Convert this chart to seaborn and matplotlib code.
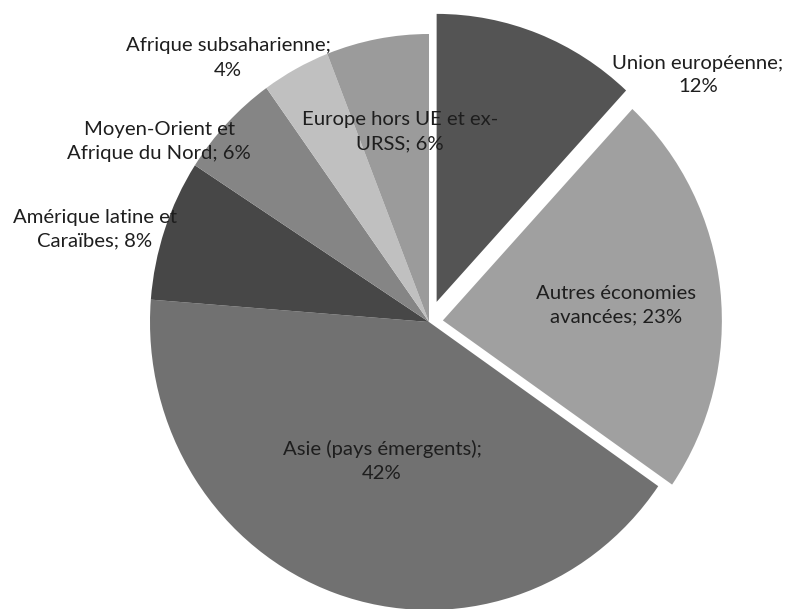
import matplotlib
matplotlib.use("Agg")
import matplotlib.pyplot as plt
import seaborn as sns

# Répartition par région (en %)
regions = [
    "Union européenne",
    "Autres économies\navancées",
    "Asie (pays émergents)",
    "Amérique latine et\nCaraïbes",
    "Moyen-Orient et\nAfrique du Nord",
    "Afrique subsaharienne",
    "Europe hors UE et ex-\nURSS",
]
parts = [12, 23, 42, 8, 6, 4, 6]
greys = ["#545454", "#a0a0a0", "#717171", "#474747", "#858585", "#c0c0c0", "#9b9b9b"]
explode = [0.075, 0.05, 0, 0, 0, 0, 0]

# Label anchors in pixels (x from left, y from top)
label_xy = [(698, 75), (616, 305), (382, 461), (95, 229),
            (159, 141), (228, 58), (400, 132)]

sns.set_theme(style="white")
plt.rcParams["font.family"] = ["Lato", "DejaVu Sans"]

W, H = 788, 609
fig = plt.figure(figsize=(W / 100, H / 100), dpi=100)
ax = fig.add_axes([0, 0, 1, 1])

cx, cy = 429, 322      # pie centre in pixels
rx, ry = 279, 288      # horizontal / vertical radius in pixels

ax.pie(parts, colors=greys, explode=explode, startangle=90,
       counterclock=False, radius=1, wedgeprops=dict(linewidth=0))
ax.set_aspect("auto")
ax.set_xlim(-cx / rx, (W - cx) / rx)
ax.set_ylim(-(H - cy) / ry, cy / ry)
ax.axis("off")

for name, val, (x, y) in zip(regions, parts, label_xy):
    sep = " " if "\n" in name else "\n"
    fig.text(x / W, 1 - y / H, f"{name};{sep}{val}%", ha="center", va="center",
             fontsize=14.6, color="#1e1e1e", linespacing=1.5)

fig.savefig("out.png", dpi=100)
